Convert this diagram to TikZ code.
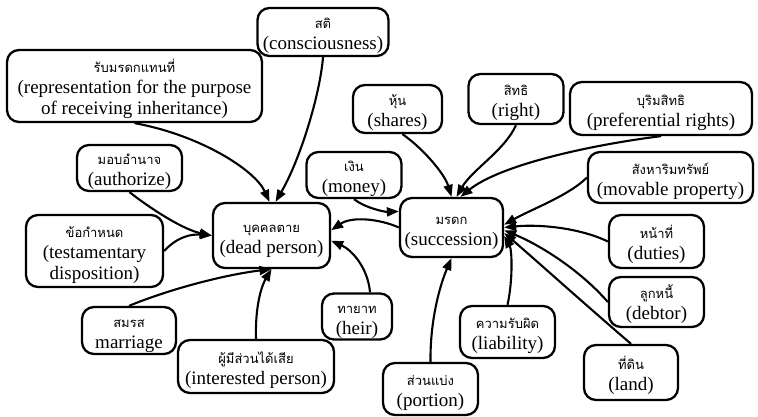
\documentclass[tikz,border=0pt]{standalone}
\usepackage{fontspec}
\setmainfont{Liberation Serif}
\newfontfamily\thaifont[Script=Thai]{Loma}
\usetikzlibrary{arrows.meta,calc}
\newcommand\thline[1]{{\thaifont\fontsize{13}{15}\selectfont #1}}
% Thai heading over an English gloss, set a little below the middle of its box
\newcommand\lbl[2]{\raisebox{-3pt}[\height][\depth]{%
  \begin{tabular}{@{}c@{}}\thline{#1}\\#2\end{tabular}}}
\begin{document}
\begin{tikzpicture}[x=1pt,y=-1pt,
  box/.style={draw, line width=2.3pt, rounded corners=12pt,
    inner sep=2pt, fill=white, font=\fontsize{19}{21}\selectfont},
  link/.style={line width=2.1pt, -{Triangle[length=12pt,width=9pt]}}]
\fill[white] (0,0) rectangle (758,417);
\useasboundingbox (0,0) rectangle (758,417);

% central concepts
\node[box, minimum width=117pt, minimum height=65pt] (dead) at (271.5,235.5) {\lbl{บุคคลตาย}{(dead person)}};
\node[box, minimum width=103pt, minimum height=59pt] (succ) at (451.5,227.5) {\lbl{มรดก}{(succession)}};

% concepts around the dead person
\node[box, minimum width=131pt, minimum height=48pt] (consc) at (323,32) {\lbl{สติ}{(consciousness)}};
\node[box, minimum width=255pt, minimum height=72pt] (rep) at (134.5,86) {\lbl{รับมรดกแทนที่}{(representation for the purpose\\of receiving inheritance)}};
\node[box, minimum width=105pt, minimum height=46pt] (auth) at (129.5,168) {\lbl{มอบอำนาจ}{(authorize)}};
\node[box, minimum width=137pt, minimum height=72pt] (testam) at (94.5,251) {\lbl{ข้อกำหนด}{(testamentary\\disposition)}};
\node[box, minimum width=94pt, minimum height=47pt] (marr) at (129,330.5) {\lbl{สมรส}{marriage}};
\node[box, minimum width=156pt, minimum height=53pt] (inter) at (256,366.5) {\lbl{ผู้มีส่วนได้เสีย}{(interested person)}};
\node[box, minimum width=70pt, minimum height=44pt] (heir) at (357,316.5) {\lbl{ทายาท}{(heir)}};

% concepts around the succession
\node[box, minimum width=95pt, minimum height=46pt] (money) at (354,175) {\lbl{เงิน}{(money)}};
\node[box, minimum width=89pt, minimum height=48pt] (shares) at (397.5,109) {\lbl{หุ้น}{(shares)}};
\node[box, minimum width=95pt, minimum height=50pt] (right) at (516,99) {\lbl{สิทธิ}{(right)}};
\node[box, minimum width=182pt, minimum height=53pt] (pref) at (661,108.5) {\lbl{บุริมสิทธิ}{(preferential rights)}};
\node[box, minimum width=165pt, minimum height=51pt] (mov) at (670.5,177.5) {\lbl{สังหาริมทรัพย์}{(movable property)}};
\node[box, minimum width=95pt, minimum height=53pt] (duties) at (656.5,241.5) {\lbl{หน้าที่}{(duties)}};
\node[box, minimum width=95pt, minimum height=50pt] (debtor) at (656.5,302) {\lbl{ลูกหนี้}{(debtor)}};
\node[box, minimum width=94pt, minimum height=55pt] (land) at (631,372.5) {\lbl{ที่ดิน}{(land)}};
\node[box, minimum width=95pt, minimum height=52pt] (liab) at (507.5,332) {\lbl{ความรับผิด}{(liability)}};
\node[box, minimum width=95pt, minimum height=52pt] (portion) at (430.5,389) {\lbl{ส่วนแบ่ง}{(portion)}};

% links into the dead person
\draw[link] (rep.south) .. controls (200,135) and (255,170) .. ([xshift=-2pt]dead.north);
\draw[link] (consc.south) .. controls (320,95) and (300,160) .. ([xshift=4pt]dead.north);
\draw[link] (auth.south) .. controls (155,212) and (185,230) .. (dead.west);
\draw[link] (testam.east) .. controls (178,236) and (192,234) .. (dead.west);
\draw[link] (marr.north) .. controls (175,287) and (230,274) .. (dead.south);
\draw[link] (inter.north) .. controls (255,305) and (262,285) .. (dead.south);
\draw[link] ([xshift=13pt]heir.north) .. controls (368,268) and (352,250) .. (dead.-5);
\draw[link] (succ.west) .. controls (380,219) and (352,216) .. (dead.5);

% links into the succession
\draw[link] (money.south) .. controls (365,208) and (385,212) .. (succ.163);
\draw[link] ([xshift=5pt]shares.south) .. controls (425,150) and (445,175) .. (succ.north);
\draw[link] (right.south) .. controls (505,150) and (472,170) .. ([xshift=5pt]succ.north);
\draw[link] (pref.south) .. controls (590,145) and (500,165) .. ([xshift=9pt]succ.north);
\draw[link] (mov.west) .. controls (570,195) and (530,210) .. (succ.3);
\draw[link] (duties.west) .. controls (580,228) and (540,224) .. (succ.east);
\draw[link] (debtor.west) .. controls (580,270) and (540,245) .. (succ.-3);
\draw[link] (land.north) .. controls (580,300) and (530,255) .. (succ.-6);
\draw[link] (liab.north) .. controls (513,280) and (512,250) .. (succ.-9);
\draw[link] (portion.north) .. controls (430,320) and (440,285) .. (succ.south);
\end{tikzpicture}
\end{document}
